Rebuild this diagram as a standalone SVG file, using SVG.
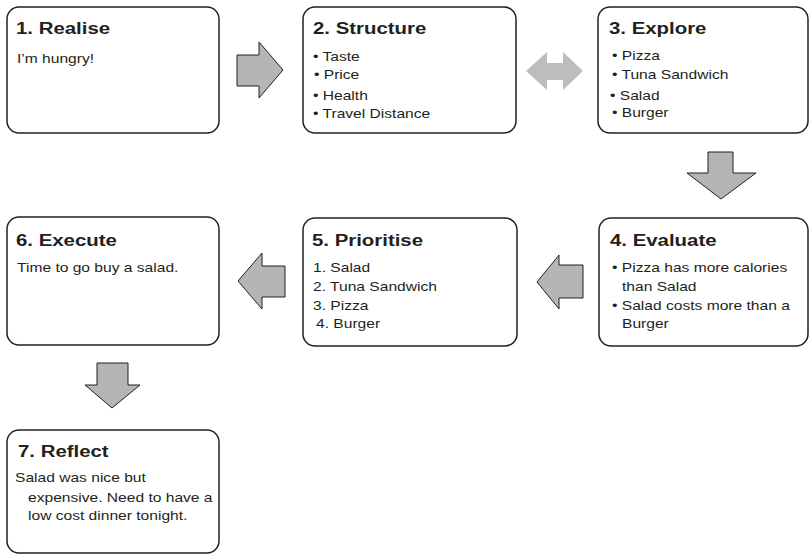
<svg xmlns="http://www.w3.org/2000/svg" width="809" height="555" viewBox="0 0 809 555">
<style>
.box{fill:#fff;stroke:#231f20;stroke-width:1.5}
.t{font-family:"Liberation Sans",Arial,Helvetica,sans-serif;font-weight:bold;font-size:17px;fill:#231f20}
.b{font-family:"Liberation Sans",Arial,Helvetica,sans-serif;font-size:13px;fill:#231f20}
.arr{fill:#b4b5b7;stroke:#231f20;stroke-width:1;stroke-linejoin:miter}
.dbl{fill:#bcbdbf;stroke:none}
</style>
<rect width="809" height="555" fill="#fff"/>
<g id="connectors">
<polygon class="arr" points="237,55 259,55 259,42 283,70 259,98 259,86 237,86"/>
<polygon class="dbl" points="526,71 547,52 547,63 563,63 563,52 583,71 563,90 563,80 547,80 547,90"/>
<polygon class="arr" points="708,152 733,152 733,173 756,173 721,199 687,173 708,173"/>
<polygon class="arr" points="583,265 559,265 559,255 537,282 559,309 559,298 583,298"/>
<polygon class="arr" points="285,266 262,266 262,253 238,281 262,309 262,297 285,297"/>
<polygon class="arr" points="97,363 128,363 128,385 140,385 112,408 85,385 97,385"/>
</g>
<g id="n1">
<rect class="box" x="7" y="7" width="212" height="126" rx="12"/>
<text class="t" transform="matrix(1.2 0 0 1 16 34)">1. Realise</text>
<text class="b" transform="matrix(1.2 0 0 1 17 63)">I’m hungry!</text>
</g>
<g id="n2">
<rect class="box" x="303" y="7" width="213" height="126" rx="12"/>
<text class="t" transform="matrix(1.2 0 0 1 313 34)">2. Structure</text>
<text class="b" transform="matrix(1.2 0 0 1 313 61)">• Taste</text>
<text class="b" transform="matrix(1.2 0 0 1 314 79)">• Price</text>
<text class="b" transform="matrix(1.2 0 0 1 313 100)">• Health</text>
<text class="b" transform="matrix(1.2 0 0 1 313 118)">• Travel Distance</text>
</g>
<g id="n3">
<rect class="box" x="598" y="7" width="210" height="126" rx="12"/>
<text class="t" transform="matrix(1.2 0 0 1 609 34)">3. Explore</text>
<text class="b" transform="matrix(1.2 0 0 1 612 60)">• Pizza</text>
<text class="b" transform="matrix(1.2 0 0 1 612 79)">• Tuna Sandwich</text>
<text class="b" transform="matrix(1.2 0 0 1 610 100)">• Salad</text>
<text class="b" transform="matrix(1.2 0 0 1 612 117)">• Burger</text>
</g>
<g id="n4">
<rect class="box" x="599" y="218" width="209" height="128" rx="12"/>
<text class="t" transform="matrix(1.2 0 0 1 610 246)">4. Evaluate</text>
<text class="b" transform="matrix(1.2 0 0 1 612 272)">• Pizza has more calories</text>
<text class="b" transform="matrix(1.2 0 0 1 622 291)">than Salad</text>
<text class="b" transform="matrix(1.2 0 0 1 612 310)">• Salad costs more than a</text>
<text class="b" transform="matrix(1.2 0 0 1 622 328)">Burger</text>
</g>
<g id="n5">
<rect class="box" x="303" y="218" width="214" height="128" rx="12"/>
<text class="t" transform="matrix(1.2 0 0 1 312 246)">5. Prioritise</text>
<text class="b" transform="matrix(1.2 0 0 1 313 272)">1. Salad</text>
<text class="b" transform="matrix(1.2 0 0 1 313 291)">2. Tuna Sandwich</text>
<text class="b" transform="matrix(1.2 0 0 1 313 310)">3. Pizza</text>
<text class="b" transform="matrix(1.2 0 0 1 316 328)">4. Burger</text>
</g>
<g id="n6">
<rect class="box" x="7" y="217" width="212" height="128" rx="12"/>
<text class="t" transform="matrix(1.2 0 0 1 16 246)">6. Execute</text>
<text class="b" transform="matrix(1.2 0 0 1 17 272)">Time to go buy a salad.</text>
</g>
<g id="n7">
<rect class="box" x="7" y="430" width="212" height="123" rx="12"/>
<text class="t" transform="matrix(1.2 0 0 1 18 457)">7. Reflect</text>
<text class="b" transform="matrix(1.2 0 0 1 15 482)">Salad was nice but</text>
<text class="b" transform="matrix(1.2 0 0 1 28 502)">expensive. Need to have a</text>
<text class="b" transform="matrix(1.2 0 0 1 28 520)">low cost dinner tonight.</text>
</g>
</svg>
